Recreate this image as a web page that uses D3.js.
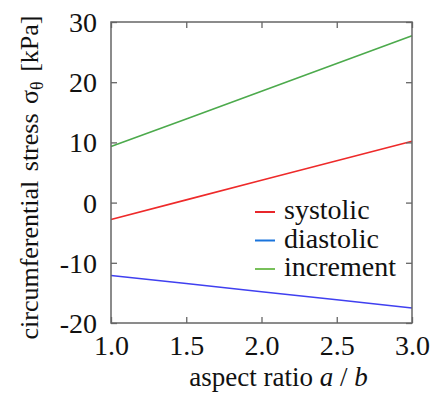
<!DOCTYPE html>
<html>
<head>
<meta charset="utf-8">
<script src="https://cdn.jsdelivr.net/npm/d3@7"></script>
<style>
  body { margin: 0; background: #fff; }
  svg text { font-family: "Liberation Serif", "Times New Roman", serif !important; fill: #111; }
</style>
</head>
<body>
<div id="plot"></div>
<script>
// Values
const aspect = [1.0, 1.5, 2.0, 2.5, 3.0];
const systolic = [-2.8, 0.45, 3.7, 6.95, 10.2];
const diastolic = [-12.1, -13.45, -14.8, -16.15, -17.5];
const increment = [9.3, 13.9, 18.5, 23.1, 27.7];
const seriesNames = ["systolic", "diastolic", "increment"];
const xTicks = [1.0, 1.5, 2.0, 2.5, 3.0];
const yTicks = [-20, -10, 0, 10, 20, 30];

const width = 434, height = 394;
const margin = {top: 22, right: 22, bottom: 71, left: 111};
const innerW = width - margin.left - margin.right;
const innerH = height - margin.top - margin.bottom;

const svg = d3.select("#plot").append("svg")
  .attr("width", width)
  .attr("height", height);

const x = d3.scaleLinear([1, 3], [0, innerW]);
const y = d3.scaleLinear([-20, 30], [innerH, 0]);

const plot = svg.append("g")
  .attr("transform", `translate(${margin.left}, ${margin.top})`);

// Lines
const lineColors = ["#ee2a2a", "#4040f0", "#4caa4c"];
const legendColors = ["#e8262b", "#1a74dc", "#78c05a"];
const series = [systolic, diastolic, increment];
const line = d3.line()
  .x((d, i) => x(aspect[i]))
  .y(d => y(d));
series.forEach((s, k) => {
  plot.append("path")
    .datum(s)
    .attr("fill", "none")
    .attr("stroke", lineColors[k])
    .attr("stroke-width", 1.6)
    .attr("d", line);
});

// Axes with inward ticks on all four sides
const frame = "#666";
const styleAxis = g => {
  g.select(".domain").remove();
  g.selectAll(".tick line").attr("stroke", frame).attr("stroke-width", 1.3);
};
const fmt = d3.format(".1f");
const yFmt = d => String(d); // plain hyphen for negatives, like the original
plot.append("g")
  .attr("transform", `translate(0, ${innerH})`)
  .call(d3.axisBottom(x).tickValues(xTicks).tickSize(-6).tickPadding(12).tickFormat(fmt))
  .call(styleAxis)
  .call(g => g.selectAll(".tick text").attr("font-size", 28));
plot.append("g")
  .call(d3.axisTop(x).tickValues(xTicks).tickSize(-6).tickFormat(""))
  .call(styleAxis);
plot.append("g")
  .call(d3.axisLeft(y).tickValues(yTicks).tickSize(-6).tickPadding(14).tickFormat(yFmt))
  .call(styleAxis)
  .call(g => g.selectAll(".tick text").attr("font-size", 28).attr("dy", "0.34em"));
plot.append("g")
  .attr("transform", `translate(${innerW}, 0)`)
  .call(d3.axisRight(y).tickValues(yTicks).tickSize(-6).tickFormat(""))
  .call(styleAxis);

plot.append("rect")
  .attr("width", innerW)
  .attr("height", innerH)
  .attr("fill", "none")
  .attr("stroke", frame)
  .attr("stroke-width", 1.5);

// Axis titles
const xt = svg.append("text")
  .attr("x", margin.left + innerW / 2 + 17)
  .attr("y", 386)
  .attr("text-anchor", "middle")
  .attr("font-size", 27);
xt.append("tspan").text("aspect ratio ");
xt.append("tspan").attr("font-style", "italic").text("a");
xt.append("tspan").text(" / ");
xt.append("tspan").attr("font-style", "italic").text("b");

const yt = svg.append("text")
  .attr("text-anchor", "middle")
  .attr("font-size", 26)
  .attr("word-spacing", 3)
  .attr("transform", `translate(38, ${margin.top + innerH / 2 + 5}) rotate(-90)`);
yt.append("tspan").text("circumferential stress σ");
yt.append("tspan").attr("font-size", 18).attr("dy", 5).text("θ");
yt.append("tspan").attr("dy", -5).text(" [kPa]");

// Legend
const legend = svg.append("g")
  .attr("transform", "translate(255, 219)");
seriesNames.forEach((name, k) => {
  const row = legend.append("g").attr("transform", `translate(0, ${k * 28.5})`);
  row.append("line")
    .attr("x1", 0).attr("x2", 20)
    .attr("y1", -7).attr("y2", -7)
    .attr("stroke", legendColors[k])
    .attr("stroke-width", 2);
  row.append("text")
    .attr("x", 29)
    .attr("y", 0)
    .attr("font-size", 28)
    .text(name);
});
</script>
</body>
</html>
